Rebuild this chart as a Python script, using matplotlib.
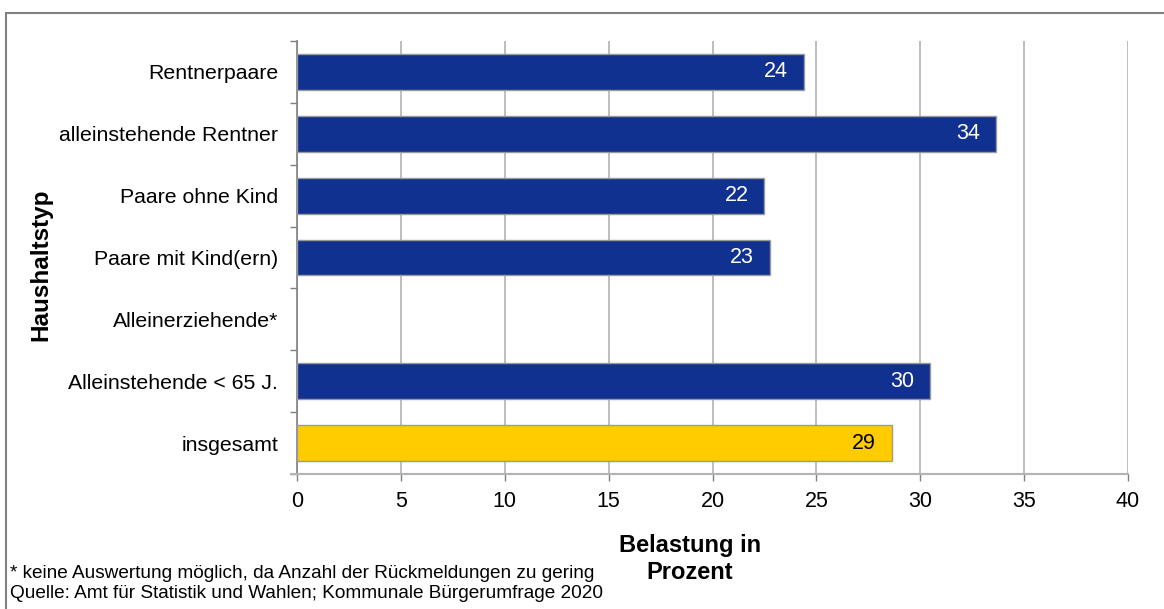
import numpy as np
import matplotlib
matplotlib.use("Agg")
import matplotlib.pyplot as plt
from matplotlib.patches import Rectangle

plt.rcParams['font.family'] = ['Liberation Sans', 'DejaVu Sans']

categories = ["Rentnerpaare", "alleinstehende Rentner", "Paare ohne Kind",
              "Paare mit Kind(ern)", "Alleinerziehende*", "Alleinstehende < 65 J.",
              "insgesamt"]
values = [24.4, 33.65, 22.5, 22.77, np.nan, 30.47, 28.64]
value_labels = ["24", "34", "22", "23", "", "30", "29"]
bar_colors = ["#10318F", "#10318F", "#10318F", "#10318F", "#10318F", "#10318F", "#FFCC00"]
label_colors = ["white", "white", "white", "white", "white", "white", "black"]
xticks = [0, 5, 10, 15, 20, 25, 30, 35, 40]

W, H = 1164, 609
fig = plt.figure(figsize=(W / 100, H / 100), dpi=100)

# outer frame (only top & left visible)
fig.patches.append(Rectangle((6 / W, -0.1), 1.2, 1 - 13 / H + 0.1, transform=fig.transFigure,
                             fill=False, edgecolor="#808080", linewidth=1.5))

ax = fig.add_axes([297 / W, 1 - 474 / H, (1128 - 297) / W, (474 - 41) / H])

y = np.arange(len(categories))
ax.barh(y, values, height=0.58, color=bar_colors, edgecolor="#9a9a9a", linewidth=1.0, zorder=3)

for i, (v, lab) in enumerate(zip(values, value_labels)):
    if not np.isnan(v):
        ax.annotate(lab, xy=(v, i), xytext=(-11.5, 0), textcoords="offset points",
                    ha="right", va="center", fontsize=15.5, color=label_colors[i], zorder=4)

ax.set_xlim(0, 40)
ax.set_ylim(len(categories) - 0.5, -0.5)
ax.set_xticks(xticks)
ax.set_xticklabels([str(t) for t in xticks], fontsize=15.5)
ax.set_yticks(y)
ax.set_yticklabels(categories, fontsize=15.3)
ax.set_yticks(np.arange(len(categories) + 1) - 0.5, minor=True)

ax.tick_params(axis="y", which="major", length=0, pad=13.5)
ax.tick_params(axis="y", which="minor", length=5, color="#808080", width=1)
ax.tick_params(axis="x", which="major", length=5, color="#808080", width=1, pad=7)

ax.grid(axis="x", color="#b3b3b3", linewidth=1.2, zorder=0)
ax.set_axisbelow(True)
for s in ["top", "right"]:
    ax.spines[s].set_visible(False)
ax.spines["left"].set_color("#808080")
ax.spines["left"].set_linewidth(1.2)
ax.spines["bottom"].set_color("#b3b3b3")
ax.spines["bottom"].set_linewidth(1.5)
ax.spines["bottom"].set_bounds(-0.3, 40)

fig.text(41 / W, 1 - 265 / H, "Haushaltstyp", rotation=90, ha="center", va="center",
         fontsize=17.5, fontweight="bold")
fig.text(690 / W, 1 - 559 / H, "Belastung in\nProzent", ha="center", va="center",
         fontsize=17, fontweight="bold", linespacing=1.2)
fig.text(10 / W, 1 - 573 / H, "* keine Auswertung möglich, da Anzahl der Rückmeldungen zu gering",
         ha="left", va="center", fontsize=13.7)
fig.text(10 / W, 1 - 594 / H, "Quelle: Amt für Statistik und Wahlen; Kommunale Bürgerumfrage 2020",
         ha="left", va="center", fontsize=13.7)

fig.savefig("out.png", dpi=100)
